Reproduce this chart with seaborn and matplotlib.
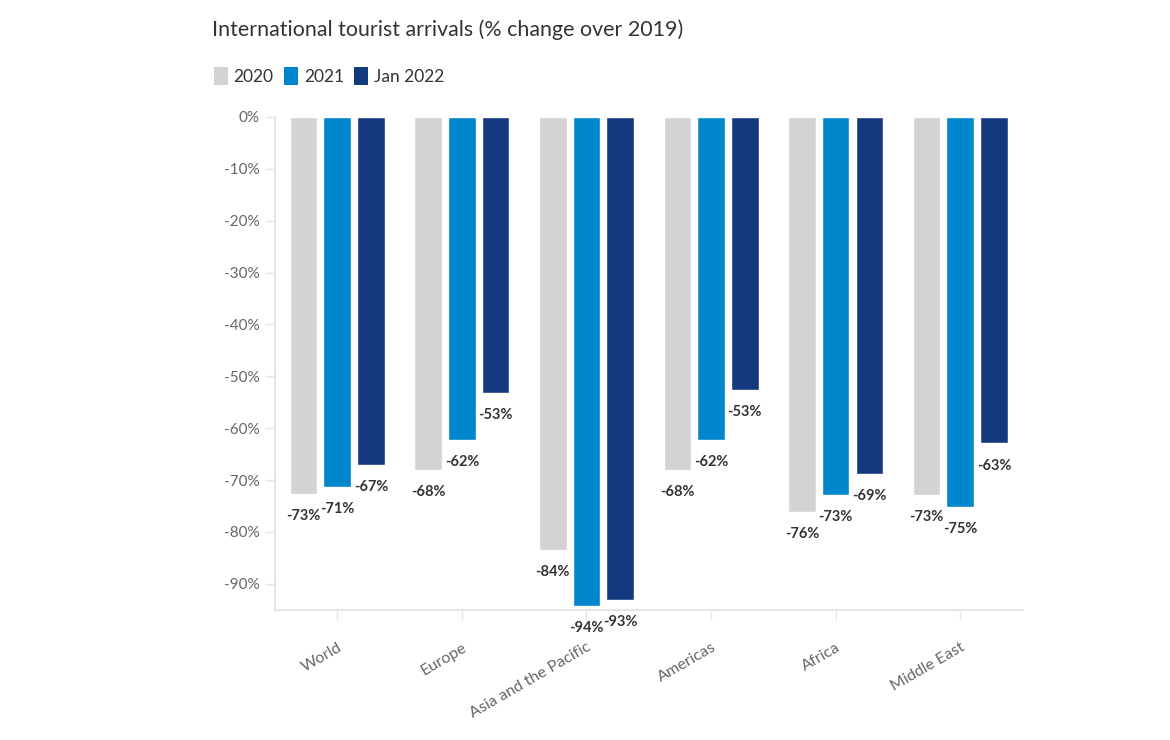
import pandas as pd
import matplotlib
matplotlib.use("Agg")
import matplotlib.pyplot as plt
import seaborn as sns
from matplotlib.patches import Patch

# --- data ---
regions = ["World", "Europe", "Asia and the Pacific", "Americas", "Africa", "Middle East"]
periods = ["2020", "2021", "Jan 2022"]
change_2020 = [-72.6, -68.0, -83.5, -68.0, -76.1, -72.8]
change_2021 = [-71.3, -62.2, -94.2, -62.3, -72.8, -75.1]
change_jan2022 = [-67.0, -53.2, -93.1, -52.6, -68.8, -62.9]
yticks = [0, -10, -20, -30, -40, -50, -60, -70, -80, -90]

colors = {"2020": "#d3d3d3", "2021": "#0086cc", "Jan 2022": "#15397f"}

df = pd.DataFrame({
    "region": regions * 3,
    "period": [p for p in periods for _ in regions],
    "change": change_2020 + change_2021 + change_jan2022,
})

sns.set_style("white")
plt.rcParams["font.family"] = ["Lato", "DejaVu Sans"]

fig = plt.figure(figsize=(11.7, 7.4), dpi=100)
ax = fig.add_axes([0.235, 0.176, 0.639, 0.666])

sns.barplot(data=df, x="region", y="change", hue="period", order=regions,
            hue_order=periods, palette=colors, width=0.81, gap=0.18,
            saturation=1, legend=False, ax=ax)

# data labels under each bar end
for cont, vals in zip(ax.containers, [change_2020, change_2021, change_jan2022]):
    ax.bar_label(cont, labels=[f"{round(v)}%" for v in vals], padding=11,
                 fontsize=10.5, fontweight="bold", color="#333333")

ax.set_ylim(-95, 0)
ax.set_xlim(-0.5, len(regions) - 0.5)
ax.set_yticks(yticks)
ax.set_yticklabels([f"{t}%" for t in yticks])
ax.set_xlabel("")
ax.set_ylabel("")

for side in ["top", "right"]:
    ax.spines[side].set_visible(False)
for side in ["left", "bottom"]:
    ax.spines[side].set_color("#e6e6e6")
    ax.spines[side].set_linewidth(1.5)

ax.tick_params(axis="y", length=7, width=1, color="#e6e6e6", labelsize=11,
               labelcolor="#666666", pad=4, left=True)
ax.tick_params(axis="x", length=7, width=1, color="#e6e6e6", labelsize=11.5,
               labelcolor="#666666", pad=15, bottom=True)
plt.setp(ax.get_xticklabels(), rotation=30, ha="right", rotation_mode="anchor")

fig.text(212 / 1170, 1 - 30 / 740, "International tourist arrivals (% change over 2019)",
         fontsize=15.4, color="#333333", va="center", ha="left")

handles = [Patch(facecolor=colors[p], edgecolor="none", label=p) for p in periods]
fig.legend(handles=handles, loc="center left", bbox_to_anchor=(198 / 1170, 1 - 76 / 740),
           ncol=3, frameon=False, fontsize=12.5, handlelength=0.8, handleheight=1.3,
           handletextpad=0.35, columnspacing=0.6, labelcolor="#333333")

fig.savefig("out.png", dpi=100)
